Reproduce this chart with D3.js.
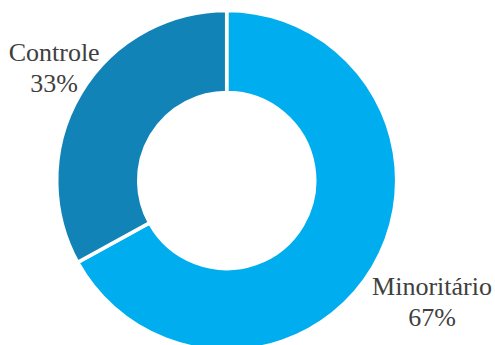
<!DOCTYPE html>
<html>
<head>
<meta charset="utf-8">
<script src="https://cdn.jsdelivr.net/npm/d3@7"></script>
<style>
    html, body { margin: 0; padding: 0; background: #fff; }
    svg { display: block; }
    .label { font-family: "Liberation Serif", "DejaVu Serif", serif; font-size: 26px; fill: #404040; }
</style>
</head>
<body>
<div id="chart"></div>
<script>
// dados
var categorias = ['Minoritário', 'Controle'];
var valores = [67, 33];
var rotulos = ['67%', '33%'];
var cores = ['#00aeef', '#1283b7'];

var width = 495,
    height = 345;
var cx = 226.7,
    cy = 180.5;
var outerRadius = 170,
    innerRadius = 88;

// posicao dos rotulos (raio e pequeno ajuste de angulo)
var labelRadius = [238.5, 206];
var labelAngleShift = [0, 0.044];

var svg = d3.select('#chart').append('svg')
    .attr('width', width)
    .attr('height', height);

var g = svg.append('g')
    .attr('transform', 'translate(' + cx + ',' + cy + ')');

var pie = d3.pie()
    .sort(null)
    .value(function(d) { return d; });

var pieData = pie(valores);

var arc = d3.arc()
    .innerRadius(innerRadius)
    .outerRadius(outerRadius);

g.selectAll('path')
    .data(pieData)
    .enter()
    .append('path')
    .attr('d', arc)
    .attr('fill', function(d, i) { return cores[i]; })
    .attr('stroke', '#fff')
    .attr('stroke-width', 3.5)
    .attr('stroke-linejoin', 'miter');

// rotulos
var labels = g.selectAll('text')
    .data(pieData)
    .enter()
    .append('text')
    .attr('class', 'label')
    .attr('text-anchor', 'middle')
    .attr('transform', function(d, i) {
        var a = (d.startAngle + d.endAngle) / 2 + labelAngleShift[i];
        var r = labelRadius[i];
        var x = r * Math.sin(a);
        var y = -r * Math.cos(a);
        return 'translate(' + x + ',' + y + ')';
    });

labels.append('tspan')
    .attr('x', 0)
    .attr('y', -7)
    .text(function(d, i) { return categorias[i]; });

labels.append('tspan')
    .attr('x', 0)
    .attr('y', 24)
    .text(function(d, i) { return rotulos[i]; });
</script>
</body>
</html>
